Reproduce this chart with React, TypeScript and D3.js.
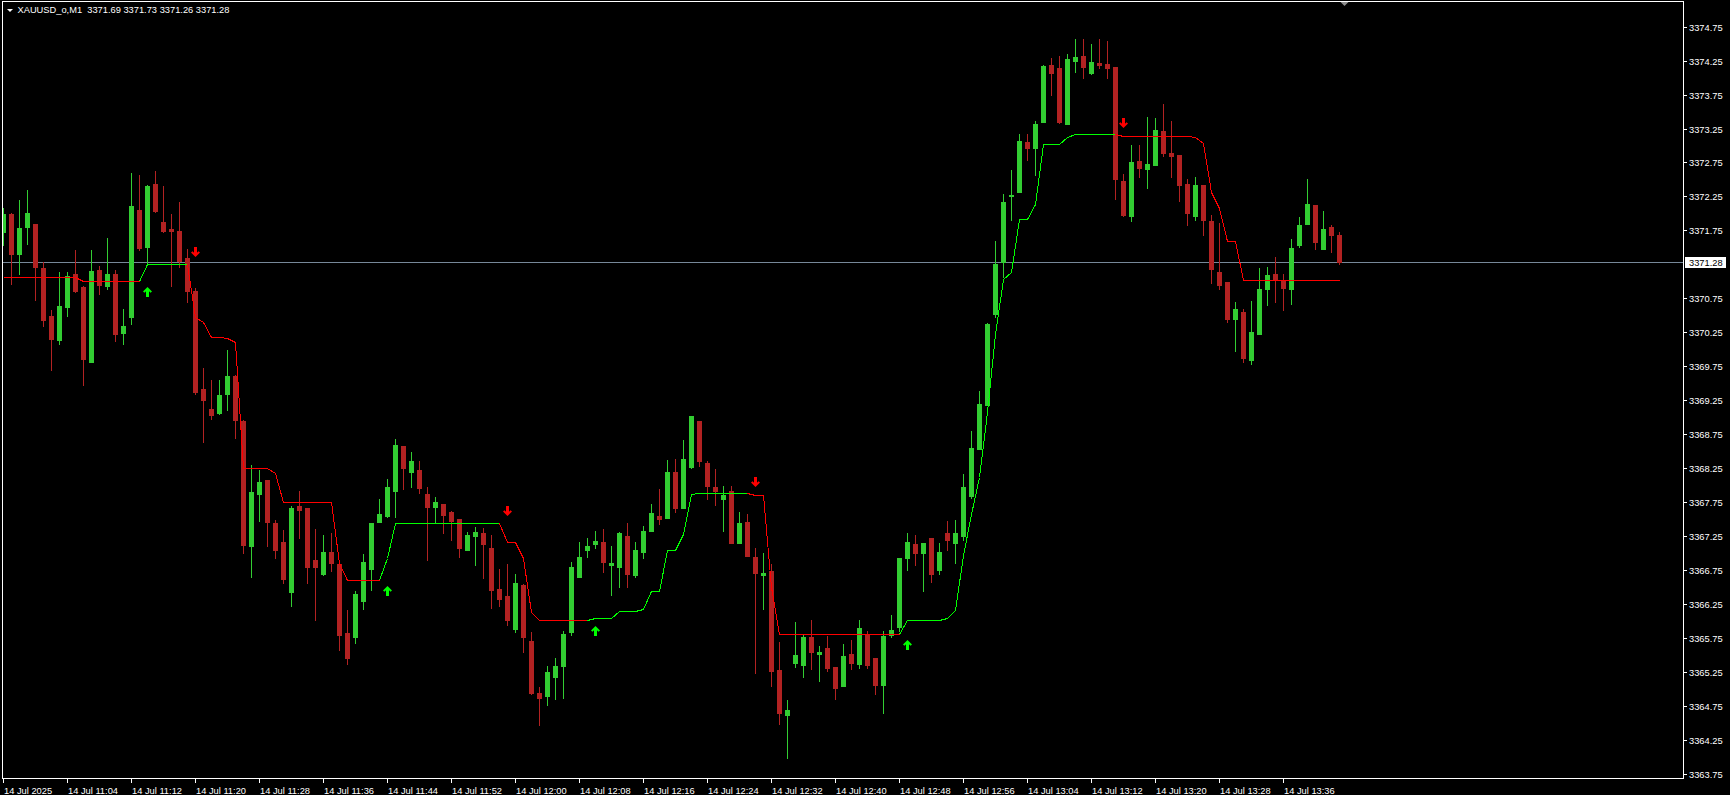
import { useRef, useEffect } from 'react'
import * as d3 from 'd3'

const symbol = 'XAUUSD_o,M1'
const lastBar = { open: 3371.69, high: 3371.73, low: 3371.26, close: 3371.28 }

// one-minute bars, 10:56 .. 13:43
const opens = [
  3371.72, 3371.99, 3371.40, 3371.80, 3371.84, 3371.20, 3370.49, 3370.14, 3370.62, 3371.11,
  3370.92, 3369.81, 3371.17, 3370.93, 3371.11, 3370.24, 3370.47, 3372.05, 3371.51, 3372.43,
  3371.87, 3371.77, 3371.74, 3371.34, 3370.86, 3369.41, 3369.12, 3369.06, 3369.34, 3369.61,
  3368.94, 3367.10, 3367.87, 3368.08, 3367.44, 3367.16, 3366.43, 3367.69, 3367.67, 3366.90,
  3366.70, 3367.02, 3366.84, 3365.83, 3365.77, 3366.29, 3366.77, 3367.46, 3367.55, 3367.92,
  3368.58, 3368.20, 3368.22, 3367.87, 3367.68, 3367.72, 3367.61, 3367.50, 3367.05, 3367.26,
  3367.30, 3367.08, 3366.47, 3366.37, 3365.89, 3366.53, 3365.71, 3364.94, 3364.90, 3365.18,
  3365.34, 3365.84, 3366.65, 3367.04, 3367.13, 3367.16, 3366.83, 3366.79, 3367.25, 3366.68,
  3367.02, 3367.32, 3367.55, 3367.52, 3368.20, 3367.67, 3368.27, 3368.95, 3368.33, 3367.97,
  3367.80, 3367.92, 3367.15, 3367.46, 3366.94, 3366.68, 3366.74, 3365.28, 3364.62, 3365.39,
  3365.36, 3365.77, 3365.51, 3365.60, 3365.33, 3365.04, 3365.52, 3365.37, 3365.81, 3365.46,
  3365.06, 3365.80, 3365.91, 3366.93, 3367.14, 3367.00, 3367.22, 3366.76, 3367.30, 3367.15,
  3367.25, 3367.84, 3368.54, 3369.18, 3370.52, 3371.28, 3372.25, 3372.32, 3373.05, 3372.97,
  3373.34, 3374.19, 3374.14, 3373.32, 3374.24, 3374.32, 3374.07, 3374.21, 3374.20, 3374.16,
  3372.48, 3371.97, 3372.77, 3372.66, 3372.72, 3373.21, 3372.89, 3372.86, 3372.43, 3371.97,
  3372.42, 3371.89, 3371.14, 3370.99, 3370.44, 3370.55, 3369.85, 3370.22, 3370.89, 3371.11,
  3371.02, 3370.89, 3371.53, 3371.85, 3372.12, 3371.47, 3371.80, 3371.69,
]

const highs = [
  3372.08, 3372.00, 3372.20, 3372.35, 3371.85, 3371.28, 3370.58, 3371.14, 3371.14, 3371.46,
  3370.93, 3371.46, 3371.23, 3371.64, 3371.17, 3370.59, 3372.60, 3372.57, 3372.42, 3372.62,
  3372.40, 3371.99, 3372.17, 3371.47, 3370.90, 3369.73, 3369.55, 3369.55, 3369.99, 3369.62,
  3368.96, 3368.30, 3368.22, 3368.08, 3367.49, 3367.34, 3367.69, 3367.91, 3367.67, 3367.36,
  3367.27, 3367.30, 3366.87, 3366.16, 3366.45, 3366.99, 3367.45, 3367.80, 3368.09, 3368.68,
  3368.58, 3368.49, 3368.36, 3367.97, 3367.83, 3367.72, 3367.62, 3367.50, 3367.31, 3367.39,
  3367.37, 3367.27, 3366.77, 3366.84, 3366.69, 3366.55, 3365.84, 3365.03, 3365.34, 3365.46,
  3365.86, 3366.87, 3367.16, 3367.22, 3367.33, 3367.36, 3367.11, 3367.31, 3367.45, 3367.16,
  3367.40, 3367.72, 3367.94, 3368.37, 3368.39, 3368.67, 3369.02, 3368.95, 3368.36, 3368.24,
  3367.99, 3367.99, 3367.61, 3367.58, 3367.08, 3367.00, 3366.84, 3365.69, 3364.84, 3365.99,
  3365.81, 3366.02, 3365.63, 3365.78, 3365.33, 3365.66, 3365.72, 3366.02, 3365.86, 3365.46,
  3365.86, 3366.09, 3366.93, 3367.30, 3367.27, 3367.15, 3367.23, 3367.15, 3367.48, 3367.49,
  3368.17, 3368.80, 3369.38, 3370.39, 3371.59, 3372.29, 3372.64, 3373.17, 3373.17, 3373.36,
  3374.19, 3374.29, 3374.32, 3374.35, 3374.57, 3374.57, 3374.49, 3374.57, 3374.54, 3374.16,
  3372.58, 3373.01, 3373.01, 3373.42, 3373.40, 3373.61, 3373.36, 3372.86, 3372.51, 3372.54,
  3372.42, 3371.98, 3371.86, 3370.99, 3370.70, 3370.59, 3370.71, 3371.20, 3371.21, 3371.36,
  3371.11, 3371.62, 3371.95, 3372.51, 3372.12, 3372.04, 3371.83, 3371.73,
]

const lows = [
  3371.54, 3370.96, 3371.11, 3371.55, 3370.73, 3370.34, 3369.70, 3370.08, 3370.49, 3370.84,
  3369.48, 3369.81, 3370.81, 3370.89, 3370.12, 3370.08, 3370.37, 3371.46, 3371.24, 3372.02,
  3371.73, 3370.93, 3371.21, 3370.70, 3369.35, 3368.64, 3368.98, 3369.05, 3369.11, 3368.70,
  3367.01, 3366.65, 3367.48, 3367.11, 3366.93, 3366.56, 3366.23, 3367.22, 3366.56, 3366.01,
  3366.68, 3366.74, 3365.58, 3365.37, 3365.68, 3366.18, 3366.46, 3367.46, 3367.54, 3367.54,
  3367.95, 3367.98, 3367.88, 3366.90, 3367.44, 3367.30, 3367.20, 3366.95, 3367.04, 3366.83,
  3366.64, 3366.20, 3366.23, 3365.95, 3365.84, 3365.55, 3364.93, 3364.47, 3364.77, 3364.85,
  3364.87, 3365.80, 3366.65, 3366.95, 3367.07, 3366.73, 3366.39, 3366.51, 3366.51, 3366.65,
  3366.93, 3367.32, 3367.43, 3367.52, 3367.60, 3367.66, 3368.26, 3368.29, 3367.80, 3367.71,
  3367.33, 3367.15, 3367.15, 3366.96, 3365.24, 3366.18, 3365.05, 3364.48, 3363.98, 3365.33,
  3365.18, 3365.29, 3365.12, 3365.26, 3364.86, 3365.04, 3365.30, 3365.31, 3365.31, 3364.93,
  3364.65, 3365.76, 3365.86, 3366.76, 3366.82, 3366.44, 3366.57, 3366.70, 3367.05, 3366.86,
  3367.20, 3367.81, 3368.54, 3369.18, 3370.48, 3371.06, 3371.91, 3372.32, 3372.78, 3372.56,
  3373.34, 3373.75, 3373.33, 3373.32, 3374.08, 3373.99, 3374.05, 3374.14, 3373.99, 3372.22,
  3371.97, 3371.89, 3372.53, 3372.38, 3372.72, 3372.85, 3372.53, 3372.19, 3371.83, 3371.91,
  3371.69, 3370.97, 3370.89, 3370.41, 3369.98, 3369.82, 3369.79, 3370.22, 3370.66, 3370.69,
  3370.58, 3370.67, 3371.50, 3371.85, 3371.48, 3371.47, 3371.44, 3371.26,
]

const closes = [
  3371.99, 3371.40, 3371.79, 3372.01, 3371.21, 3370.43, 3370.15, 3370.64, 3371.08, 3370.86,
  3369.86, 3371.15, 3370.95, 3371.11, 3370.23, 3370.34, 3372.11, 3371.49, 3372.40, 3372.04,
  3371.74, 3371.74, 3371.30, 3370.86, 3369.37, 3369.25, 3369.03, 3369.33, 3369.61, 3368.96,
  3367.12, 3367.90, 3368.05, 3367.46, 3367.04, 3366.62, 3367.67, 3367.63, 3366.80, 3366.79,
  3367.02, 3366.85, 3365.80, 3365.46, 3366.40, 3366.87, 3367.45, 3367.58, 3367.97, 3368.59,
  3368.25, 3368.36, 3367.96, 3367.68, 3367.75, 3367.56, 3367.48, 3367.07, 3367.27, 3367.31,
  3367.13, 3366.46, 3366.32, 3366.01, 3366.56, 3365.77, 3364.94, 3364.87, 3365.25, 3365.34,
  3365.81, 3366.80, 3366.94, 3367.11, 3367.18, 3366.87, 3366.86, 3367.30, 3366.70, 3367.05,
  3367.33, 3367.59, 3367.51, 3368.20, 3367.66, 3368.39, 3369.02, 3368.35, 3367.99, 3367.92,
  3367.86, 3367.15, 3367.44, 3366.96, 3366.71, 3366.71, 3365.27, 3364.65, 3364.69, 3365.50,
  3365.77, 3365.54, 3365.55, 3365.31, 3365.01, 3365.49, 3365.39, 3365.90, 3365.36, 3365.06,
  3365.78, 3365.87, 3366.93, 3367.16, 3367.00, 3367.15, 3366.70, 3367.02, 3367.19, 3367.30,
  3367.97, 3368.55, 3369.20, 3370.37, 3371.26, 3372.17, 3372.27, 3373.07, 3372.97, 3373.32,
  3374.17, 3374.06, 3373.34, 3374.27, 3374.30, 3374.16, 3374.23, 3374.18, 3374.14, 3372.50,
  3371.98, 3372.76, 3372.67, 3372.73, 3373.23, 3372.89, 3372.85, 3372.42, 3372.00, 3372.42,
  3371.91, 3371.19, 3370.94, 3370.44, 3370.59, 3369.88, 3370.26, 3370.89, 3371.09, 3371.04,
  3370.91, 3371.49, 3371.83, 3372.14, 3371.58, 3371.77, 3371.69, 3371.28,
]

// trailing stop indicator value per bar
const trail = [
  3371.06, 3371.06, 3371.06, 3371.06, 3371.06, 3371.06, 3371.06, 3371.06, 3371.06, 3371.06,
  3371.00, 3371.00, 3371.00, 3371.00, 3371.00, 3371.00, 3371.00, 3371.00, 3371.25, 3371.25,
  3371.25, 3371.25, 3371.25, 3371.26, 3370.48, 3370.41, 3370.18, 3370.18, 3370.16, 3370.11,
  3368.26, 3368.26, 3368.26, 3368.25, 3368.18, 3367.76, 3367.76, 3367.76, 3367.76, 3367.76,
  3367.76, 3367.76, 3366.85, 3366.61, 3366.61, 3366.61, 3366.61, 3366.61, 3366.93, 3367.44,
  3367.44, 3367.44, 3367.44, 3367.44, 3367.44, 3367.44, 3367.44, 3367.44, 3367.44, 3367.44,
  3367.44, 3367.44, 3367.44, 3367.16, 3367.16, 3366.93, 3366.13, 3366.02, 3366.02, 3366.02,
  3366.02, 3366.02, 3366.02, 3366.02, 3366.04, 3366.04, 3366.04, 3366.15, 3366.15, 3366.15,
  3366.18, 3366.44, 3366.44, 3367.04, 3367.04, 3367.28, 3367.87, 3367.88, 3367.88, 3367.88,
  3367.88, 3367.88, 3367.88, 3367.88, 3367.86, 3367.85, 3366.51, 3365.81, 3365.81, 3365.81,
  3365.81, 3365.81, 3365.81, 3365.81, 3365.81, 3365.81, 3365.81, 3365.81, 3365.81, 3365.81,
  3365.81, 3365.81, 3365.81, 3366.01, 3366.01, 3366.01, 3366.01, 3366.01, 3366.04, 3366.17,
  3366.98, 3367.58, 3368.12, 3369.08, 3370.22, 3371.03, 3371.14, 3371.92, 3371.92, 3372.14,
  3373.02, 3373.02, 3373.02, 3373.13, 3373.17, 3373.17, 3373.17, 3373.17, 3373.17, 3373.17,
  3373.14, 3373.14, 3373.14, 3373.14, 3373.14, 3373.14, 3373.14, 3373.14, 3373.14, 3373.13,
  3373.03, 3372.32, 3372.08, 3371.59, 3371.59, 3371.02, 3371.02, 3371.02, 3371.02, 3371.02,
  3371.02, 3371.02, 3371.02, 3371.02, 3371.02, 3371.02, 3371.02, 3371.02,
]

// trend legs of the indicator: first bar, last bar, 1 = up (green) / -1 = down (red)
const legStarts = [0, 17, 23, 47, 62, 73, 93, 112, 139]
const legEnds = [17, 23, 47, 62, 73, 93, 112, 139, 167]
const legDirs = [-1, 1, -1, 1, -1, 1, -1, 1, -1]

// signal arrows
const arrowBars = [18, 24, 48, 63, 74, 94, 113, 140]
const arrowDirs = [1, -1, 1, -1, 1, -1, 1, -1]
const arrowPrices = [3370.84, 3371.43, 3366.44, 3367.62, 3365.86, 3368.05, 3365.65, 3373.33]

const timeLabels = [
  '14 Jul 2025', '14 Jul 11:04', '14 Jul 11:12', '14 Jul 11:20', '14 Jul 11:28', '14 Jul 11:36',
  '14 Jul 11:44', '14 Jul 11:52', '14 Jul 12:00', '14 Jul 12:08', '14 Jul 12:16', '14 Jul 12:24',
  '14 Jul 12:32', '14 Jul 12:40', '14 Jul 12:48', '14 Jul 12:56', '14 Jul 13:04', '14 Jul 13:12',
  '14 Jul 13:20', '14 Jul 13:28', '14 Jul 13:36',
]
const barsPerLabel = 8

const priceTicks = [
  3374.75, 3374.25, 3373.75, 3373.25, 3372.75, 3372.25, 3371.75, 3370.75, 3370.25, 3369.75,
  3369.25, 3368.75, 3368.25, 3367.75, 3367.25, 3366.75, 3366.25, 3365.75, 3365.25, 3364.75,
  3364.25, 3363.75,
]

const UP = '#32cd32'
const DOWN = '#b22222'
const FONT = '"Liberation Sans", Arial, sans-serif'

const App = () => {
  const svgRef = useRef<SVGSVGElement>(null)

  useEffect(() => {
    if (!svgRef.current) return
    document.body.style.margin = '0'
    document.body.style.background = '#000'
    document.body.style.overflow = 'hidden'

    const width = 1730
    const height = 795
    const frame = { left: 2, top: 1, right: 1683, bottom: 778 }

    const svg = d3.select(svgRef.current)
    svg.selectAll('*').remove()
    svg.attr('width', width).attr('height', height)

    svg.append('rect').attr('width', width).attr('height', height).attr('fill', '#000')

    const n = opens.length
    const x = d3.scaleLinear().domain([0, n - 1]).range([3.5, 3.5 + 8 * (n - 1)])
    const y = d3.scaleLinear().domain([3374.75, 3363.75]).range([26.6, 774.05])
    const py = (v: number) => Math.round(y(v))

    svg.append('clipPath').attr('id', 'plot-clip')
      .append('rect')
      .attr('x', frame.left + 1).attr('y', frame.top + 1)
      .attr('width', frame.right - frame.left - 1)
      .attr('height', frame.bottom - frame.top - 1)

    const plot = svg.append('g').attr('clip-path', 'url(#plot-clip)')

    // bid line
    plot.append('line')
      .attr('x1', frame.left).attr('x2', frame.right)
      .attr('y1', py(lastBar.close) + 0.5).attr('y2', py(lastBar.close) + 0.5)
      .attr('stroke', '#778899')

    const bars = d3.range(n)

    plot.selectAll('.wick')
      .data(bars)
      .join('line')
      .attr('class', 'wick')
      .attr('x1', i => x(i)).attr('x2', i => x(i))
      .attr('y1', i => py(highs[i]))
      .attr('y2', i => py(lows[i]) + 1)
      .attr('stroke', i => (closes[i] >= opens[i] ? UP : DOWN))
      .attr('shape-rendering', 'crispEdges')

    plot.selectAll('.body')
      .data(bars)
      .join('rect')
      .attr('class', 'body')
      .attr('x', i => x(i) - 2.5)
      .attr('y', i => py(Math.max(opens[i], closes[i])))
      .attr('width', 5)
      .attr('height', i => Math.max(1, py(Math.min(opens[i], closes[i])) - py(Math.max(opens[i], closes[i])) + 1))
      .attr('fill', i => (closes[i] >= opens[i] ? UP : DOWN))
      .attr('shape-rendering', 'crispEdges')

    const line = d3.line<number>()
      .x(i => x(i))
      .y(i => py(trail[i]) + 0.5)

    legStarts.forEach((start, k) => {
      plot.append('path')
        .datum(d3.range(start, legEnds[k] + 1))
        .attr('fill', 'none')
        .attr('stroke', legDirs[k] > 0 ? '#00ff00' : '#ff0000')
        .attr('stroke-width', 1)
        .attr('shape-rendering', 'crispEdges')
        .attr('d', line)
    })

    const arrowPath = 'M0,-5 L4.5,-0.5 L3,0.8 L1.5,-0.8 L1.5,5 L-1.5,5 L-1.5,-0.8 L-3,0.8 L-4.5,-0.5 Z'
    plot.selectAll('.arrow')
      .data(arrowBars)
      .join('path')
      .attr('class', 'arrow')
      .attr('d', arrowPath)
      .attr('transform', (b, k) => `translate(${x(b)},${py(arrowPrices[k])}) scale(1,${arrowDirs[k]})`)
      .attr('fill', (_, k) => (arrowDirs[k] > 0 ? '#00ff00' : '#ff0000'))

    // chart shift marker
    svg.append('path')
      .attr('d', `M${x(n - 1)},${frame.top} l10,0 l-5,5 Z`)
      .attr('fill', '#8c8c8c')

    // frame
    svg.append('rect')
      .attr('x', frame.left + 0.5).attr('y', frame.top + 0.5)
      .attr('width', frame.right - frame.left).attr('height', frame.bottom - frame.top)
      .attr('fill', 'none').attr('stroke', '#fff')
      .attr('shape-rendering', 'crispEdges')

    // price axis
    const pAxis = svg.append('g')
    priceTicks.forEach(v => {
      const ty = py(v) + 0.5
      pAxis.append('line')
        .attr('x1', frame.right).attr('x2', frame.right + 4)
        .attr('y1', ty).attr('y2', ty)
        .attr('stroke', '#fff').attr('shape-rendering', 'crispEdges')
      pAxis.append('text')
        .attr('x', frame.right + 6).attr('y', ty + 3.5)
        .attr('fill', '#fff')
        .attr('font-family', FONT).attr('font-size', '9.3px')
        .text(v.toFixed(2))
    })

    const ly = py(lastBar.close)
    pAxis.append('rect')
      .attr('x', frame.right + 2).attr('y', ly - 5)
      .attr('width', 41).attr('height', 11)
      .attr('fill', '#fff')
    pAxis.append('text')
      .attr('x', frame.right + 6).attr('y', ly + 4)
      .attr('fill', '#000')
      .attr('font-family', FONT).attr('font-size', '9.3px')
      .text(lastBar.close.toFixed(2))

    // time axis
    const tAxis = svg.append('g')
    timeLabels.forEach((label, k) => {
      const tx = x(k * barsPerLabel)
      tAxis.append('line')
        .attr('x1', tx).attr('x2', tx)
        .attr('y1', frame.bottom).attr('y2', frame.bottom + 5)
        .attr('stroke', '#fff').attr('shape-rendering', 'crispEdges')
      tAxis.append('text')
        .attr('x', tx + 0.5).attr('y', 793.5)
        .attr('fill', '#fff')
        .attr('font-family', FONT).attr('font-size', '9.3px')
        .text(label)
    })

    // header
    svg.append('path').attr('d', 'M7,9 L13,9 L10,12 Z').attr('fill', '#fff')
    svg.append('text')
      .attr('x', 17.5).attr('y', 13)
      .attr('fill', '#fff')
      .attr('font-family', FONT).attr('font-size', '9.3px')
      .style('white-space', 'pre')
      .text(`${symbol}  ${lastBar.open.toFixed(2)} ${lastBar.high.toFixed(2)} ${lastBar.low.toFixed(2)} ${lastBar.close.toFixed(2)}`)
  }, [])

  return (
    <div style={{ position: 'absolute', left: 0, top: 0, width: 1730, height: 795, background: '#000' }}>
      <svg ref={svgRef} style={{ display: 'block' }} />
    </div>
  )
}

export default App
